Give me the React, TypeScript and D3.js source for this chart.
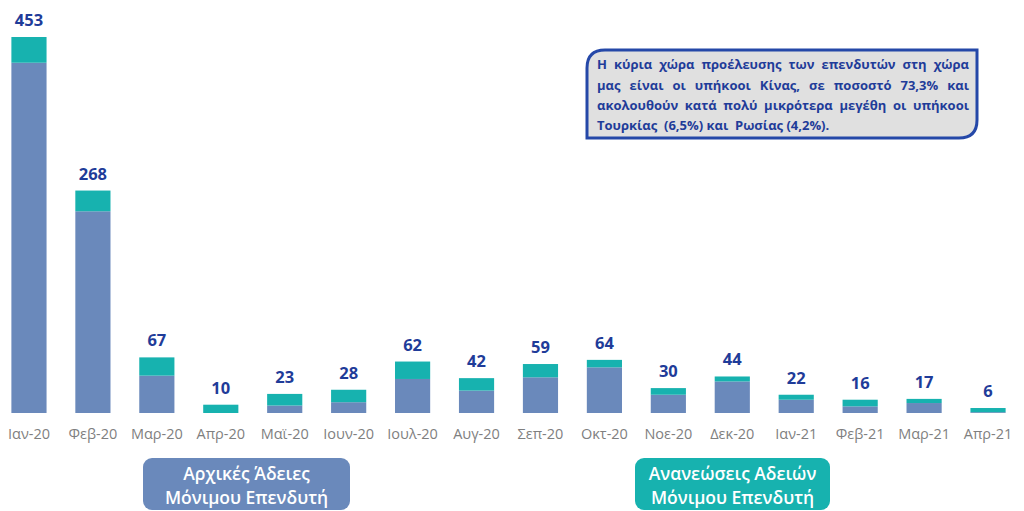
import React, { useEffect, useRef } from "react";
import * as d3 from "d3";

const months = ["Ιαν-20","Φεβ-20","Μαρ-20","Απρ-20","Μαϊ-20","Ιουν-20","Ιουλ-20","Αυγ-20","Σεπ-20","Οκτ-20","Νοε-20","Δεκ-20","Ιαν-21","Φεβ-21","Μαρ-21","Απρ-21"];
const initialPermits = [422, 243, 45, 0, 9, 13, 41, 27, 43, 55, 22, 38, 16, 8, 12, 1];
const renewals = [31, 25, 22, 10, 14, 15, 21, 15, 16, 9, 8, 6, 6, 8, 5, 5];
const totals = [453, 268, 67, 10, 23, 28, 62, 42, 59, 64, 30, 44, 22, 16, 17, 6];

const noteLines = [
  "Η κύρια χώρα προέλευσης των επενδυτών στη χώρα",
  "μας είναι οι υπήκοοι Κίνας, σε ποσοστό 73,3% και",
  "ακολουθούν κατά πολύ μικρότερα μεγέθη οι υπήκοοι",
  "Τουρκίας  (6,5%) και  Ρωσίας (4,2%).",
];
const legendLeft = ["Αρχικές Άδειες", "Μόνιμου Επενδυτή"];
const legendRight = ["Ανανεώσεις Αδειών", "Μόνιμου Επενδυτή"];

const BLUE = "#6a89bb";
const TEAL = "#17b2af";
const LABEL = "#1f3c99";
const FONT = "'Open Sans', 'Noto Sans', sans-serif";

export default function App() {
  const noteRef = useRef<SVGGElement>(null);
  const W = 1024, H = 511;
  const x = d3.scaleBand<string>().domain(months).range([-3, 1020]).paddingInner(0.45).paddingOuter(0.225);
  const y = d3.scaleLinear().domain([0, 453]).range([413, 37]);

  useEffect(() => {
    const g = d3.select(noteRef.current);
    g.selectAll("*").remove();
    const x0 = 597, x1 = 969;
    const baselines = [69, 89.5, 110, 130];
    noteLines.forEach((line, i) => {
      if (i === noteLines.length - 1) {
        g.append("text").attr("x", x0).attr("y", baselines[i])
          .attr("xml:space", "preserve")
          .style("white-space", "pre")
          .text(line);
        return;
      }
      const words = line.split(" ");
      const nodes = words.map((w) => g.append("text").attr("y", baselines[i]).text(w));
      const widths = nodes.map((n) => (n.node() as SVGTextElement).getComputedTextLength());
      const total = d3.sum(widths);
      const gap = (x1 - x0 - total) / (words.length - 1);
      let cx = x0;
      nodes.forEach((n, k) => { n.attr("x", cx); cx += widths[k] + gap; });
    });
  }, []);

  const bw = x.bandwidth();
  const boxPath = (() => {
    const bx0 = 587, by0 = 50, bx1 = 977, by1 = 138, r = 18;
    return `M${bx0},${by0 + r} Q${bx0},${by0} ${bx0 + r},${by0} L${bx1},${by0} L${bx1},${by1 - r} Q${bx1},${by1} ${bx1 - r},${by1} L${bx0},${by1} Z`;
  })();

  return (
    <svg width={W} height={H} style={{ position: "absolute", left: 0, top: 0, background: "#fff" }} fontFamily={FONT}>
      <g>
        {months.map((m, i) => {
          const xb = x(m)!;
          const b = initialPermits[i];
          const t = renewals[i];
          return (
            <g key={m}>
              {b > 0 && <rect x={xb} width={bw} y={y(b)} height={y(0) - y(b)} fill={BLUE} />}
              <rect x={xb} width={bw} y={y(b + t)} height={y(b) - y(b + t)} fill={TEAL} />
              <text x={xb + bw / 2} y={y(totals[i]) - 11} textAnchor="middle" fontWeight="bold" fontSize={16.5} fill={LABEL}>{totals[i]}</text>
              <text x={xb + bw / 2} y={439} textAnchor="middle" fontSize={14.5} fontWeight={500} fill="#7f7f7f">{m}</text>
            </g>
          );
        })}
      </g>
      <path d={boxPath} fill="#e0e0e0" stroke="#2548a8" strokeWidth={3} />
      <g ref={noteRef} fontWeight="bold" fontSize={13} fill={LABEL} />
      <rect x={143} y={458} width={207} height={52} rx={9} fill={BLUE} />
      {legendLeft.map((t, i) => (
        <text key={t} x={246.5} y={480 + i * 23.5} textAnchor="middle" fontSize={17.5} fontWeight={600} fill="#fff">{t}</text>
      ))}
      <rect x={635} y={458} width={195} height={52} rx={9} fill={TEAL} />
      {legendRight.map((t, i) => (
        <text key={t} x={732.5} y={480 + i * 23.5} textAnchor="middle" fontSize={17.5} fontWeight={600} fill="#fff">{t}</text>
      ))}
    </svg>
  );
}
